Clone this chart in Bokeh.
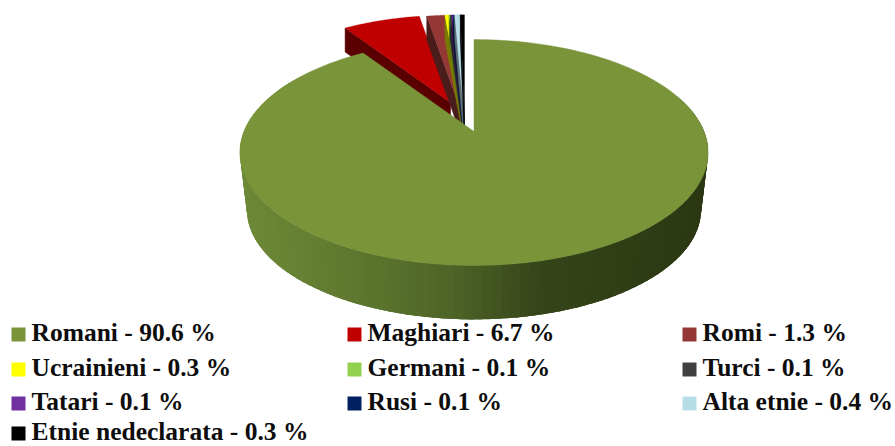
import numpy as np
from bokeh.plotting import figure
from bokeh.models import Range1d
from bokeh.core.properties import value
from bokeh.embed import file_html
from bokeh.resources import INLINE

names = ["Romani", "Maghiari", "Romi", "Ucrainieni", "Germani", "Turci",
         "Tatari", "Rusi", "Alta etnie", "Etnie nedeclarata"]
shares = [90.6, 6.7, 1.3, 0.3, 0.1, 0.1, 0.1, 0.1, 0.4, 0.3]
top_colors = ["#7A943A", "#C00000", "#953735", "#FFFF00", "#92D050", "#404040",
              "#7030A0", "#002060", "#B7DEE8", "#000000"]
side_colors = ["#4f6427", "#5a0000", "#4a1c1b", "#7a7a00", "#4a6a28", "#202020",
               "#381850", "#001030", "#5c7074", "#000000"]

# layout: apex x, apex y, scale, depth of each slice
APEX = [(473.5, 131, 1.0, 58), (450, 102, 0.95, 24)] + [(464, 120, 1.15, 24)] * 8
A, B, K = 230.0, 109.0, 0.186
wall_x = [240, 350, 450, 540, 650, 710]
wall_rgb = [(110, 138, 56), (95, 122, 48), (79, 100, 39), (54, 69, 26), (47, 60, 21), (43, 55, 18)]

W, H = 895, 446
p = figure(width=W, height=H, x_range=Range1d(0, W), y_range=Range1d(H, 0),
           output_backend="svg", toolbar_location=None, min_border=0,
           background_fill_color="white", border_fill_color="white")
p.axis.visible = False
p.grid.visible = False
p.outline_line_color = None


def project(theta, slice_i, lower=False):
    """Map a clockwise-from-top angle on the disc to the perspective view."""
    ax, ay, s, d = APEX[slice_i]
    u, v = np.sin(theta), np.cos(theta)
    w = 1 + K * v
    f = 0.97 if lower else 1.0
    return ax + s * f * A * u / w, ay + (d if lower else 0) - s * f * B * v / w


fractions = np.cumsum([0] + shares) / sum(shares)
starts = fractions[:-1] * 2 * np.pi
ends = fractions[1:] * 2 * np.pi

# exploded slices, back to front
for i in range(1, len(shares)):
    ax, ay, s, d = APEX[i]
    th = np.linspace(starts[i], ends[i], 24)
    x0, y0 = project(starts[i], i)
    p.patch([x0, ax, ax, x0], [y0, ay, ay + d, y0 + d],
            fill_color=side_colors[i], line_color=side_colors[i], line_width=0.5)
    tx, ty = project(th, i)
    p.patch(np.r_[ax, tx], np.r_[ay, ty], fill_color=top_colors[i],
            line_color=top_colors[i], line_width=0.3)

# Romani outer wall, stepped shading with overlapping strips
edges = np.linspace(np.radians(70), np.radians(300), 120)
step = edges[1] - edges[0]
xs_strip, ys_strip, cols = [], [], []
for a0 in edges[:-1]:
    a1 = a0 + 2.5 * step
    xa, ya = project(np.array([a0, a0 + step, a1]), 0)
    xb, yb = project(np.array([a1, a0 + step, a0]), 0, lower=True)
    mid = (xa[:2].mean() + xb[1:].mean()) / 2
    rgb = [int(np.interp(mid, wall_x, [c[k] for c in wall_rgb])) for k in range(3)]
    xs_strip.append(np.r_[xa, xb].tolist())
    ys_strip.append(np.r_[ya, yb].tolist())
    cols.append("#%02x%02x%02x" % tuple(rgb))
p.patches(xs_strip, ys_strip, fill_color=cols, line_color=None)

# Romani top face
th = np.linspace(starts[0], ends[0], 300)
tx, ty = project(th, 0)
p.patch(np.r_[APEX[0][0], tx], np.r_[APEX[0][1], ty], fill_color=top_colors[0],
        line_color=top_colors[0], line_width=0.5)

# legend
COLS = [11, 347, 682]
ROWS = [327, 362, 396, 426]
for i, (n, v, c) in enumerate(zip(names, shares, top_colors)):
    x = COLS[i % 3]
    y = ROWS[i // 3]
    p.quad(left=x, right=x + 14, top=y, bottom=y + 14, fill_color=c, line_color=None)
    p.text([x + 20], [y + 5], text=[f"{n} - {v} %"], text_font=value("Liberation Serif"),
           text_font_style="bold", text_font_size="25.5px", text_color="#0d0d0d",
           text_baseline="middle", text_align="left")

open("out.html", "w").write(file_html(p, INLINE))
